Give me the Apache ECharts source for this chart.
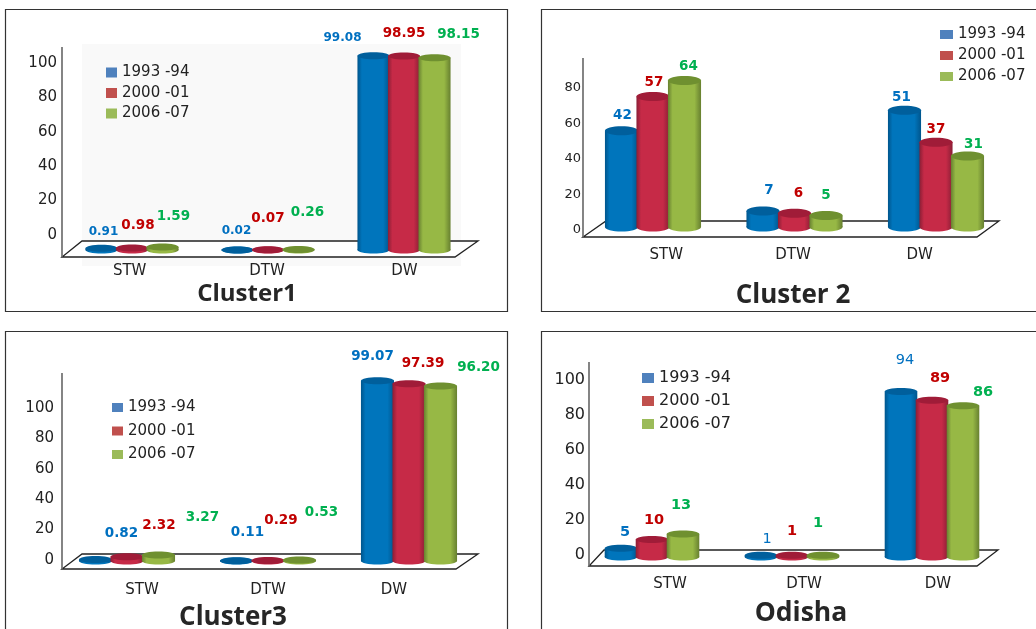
<!DOCTYPE html>
<html><head><meta charset="utf-8">
<style>html,body{margin:0;padding:0;background:#fff}#c{width:1036px;height:629px}</style>
<script src="https://cdn.jsdelivr.net/npm/echarts@6/dist/echarts.min.js"></script>
</head><body><div id="c"></div>
<script>
const categories = ['STW', 'DTW', 'DW'];
const periods = ['1993 -94', '2000 -01', '2006 -07'];
const panelTitles = ['Cluster1', 'Cluster 2', 'Cluster3', 'Odisha'];
const cluster1_1993 = [0.91, 0.02, 99.08];
const cluster1_2000 = [0.98, 0.07, 98.95];
const cluster1_2006 = [1.59, 0.26, 98.15];
const cluster2_1993 = [42, 7, 51];
const cluster2_2000 = [57, 6, 37];
const cluster2_2006 = [64, 5, 31];
const cluster3_1993 = [0.82, 0.11, 99.07];
const cluster3_2000 = [2.32, 0.29, 97.39];
const cluster3_2006 = [3.27, 0.53, 96.20];
const odisha_1993 = [5, 1, 94];
const odisha_2000 = [10, 1, 89];
const odisha_2006 = [13, 1, 86];
const panelValues = [
  [cluster1_1993, cluster1_2000, cluster1_2006],
  [cluster2_1993, cluster2_2000, cluster2_2006],
  [cluster3_1993, cluster3_2000, cluster3_2006],
  [odisha_1993, odisha_2000, odisha_2006]
];
const tickTop = [100, 80, 100, 100];
const plotMax = [100, 80, 100, 100];
const decimals = [2, 0, 2, 0];

// layout only
const layout = [
 {frame:[5,9,502,302], floor:[[82,241],[478,241],[455,257],[62,257]], axisX:62, axisTop:47,
  barLeft:64, barStep:136, bar:30.5, base:250, scale:1.96, ry:3.5,
  tick:{top:63,bottom:235,size:15,right:57}, cat:{left:61,width:412,y:272,size:15},
  title:{x:247,y:293,size:24},
  legend:{left:106,top:65,w:11,h:10,gap:20.5,size:15},
  labelSize:[12,13.5,13.5],
  off:[[[2,-16],[-1,-19],[-31,-18]],[[6,-23],[0,-31],[0,-23]],[[11,-30],[9,-36.5],[24,-23]]]},
 {frame:[541,9,520,302], floor:[[606,221],[999,221],[977,237],[583,237]], axisX:583, axisTop:58,
  barLeft:582.25, barStep:141.5, bar:31.5, base:227, scale:2.29, ry:4.5,
  tick:{top:88,bottom:230,size:13,right:581}, cat:{left:603,width:380,y:256,size:15},
  title:{x:793,y:295,size:26},
  legend:{left:940,top:27,w:13,h:9,gap:21,size:15},
  labelSize:[13.5,13.5,13.5],
  off:[[[1,-15],[6,-20],[-3,-13]],[[1,-13.5],[4,-20],[0,-13]],[[4,-14],[0,-20.5],[6,-12]]]},
 {frame:[5,331,502,320], floor:[[82,554],[478,554],[456,569],[62,569]], axisX:62, axisTop:373,
  barLeft:56.5, barStep:141, bar:31.5, base:561, scale:1.82, ry:3.5,
  tick:{top:408,bottom:560,size:15,right:54}, cat:{left:79,width:378,y:591,size:15},
  title:{x:233,y:617,size:26},
  legend:{left:112,top:400,w:11,h:9,gap:23.5,size:15},
  labelSize:[13.5,13.5,13.5],
  off:[[[26,-26.5],[11,-28],[-5,-23.7]],[[32,-30.8],[13,-39.5],[14,-20.7]],[[44,-38],[22,-48],[38,-18]]]},
 {frame:[541,331,520,320], floor:[[604,550],[998,550],[977,566],[589,566]], axisX:589, axisTop:362,
  barLeft:582, barStep:140, bar:31, base:557, scale:1.76, ry:3.5,
  tick:{top:380,bottom:555,size:16,right:585}, cat:{left:603,width:402,y:585,size:15},
  title:{x:801,y:612,size:26.5},
  legend:{left:642,top:370,w:12,h:10,gap:23,size:16},
  labelSize:[14.5,14.5,14.5], blueWeights:['bold','normal','normal'],
  off:[[[4,-16],[6,-16],[4,-31.6]],[[2,-19.4],[0,-24],[8,-22]],[[-2,-29],[-5,-32],[20,-13.6]]]}
];
const legendColors = ['#4F81BD', '#C0504D', '#9BBB59'];
const labelColors = ['#0070C0', '#C00000', '#00B050'];
const bodyColors = [
  {edge:'#00558C', mid:'#0075BC', top:'#005F9C'},
  {edge:'#8A1E35', mid:'#C62A47', top:'#A01C38'},
  {edge:'#678030', mid:'#97B845', top:'#6F9030'}
];
const FONT = '"DejaVu Sans", sans-serif';

function cylinder(p, s, params, api) {
  const L = layout[p], c = bodyColors[s];
  const cat = api.value(0), val = api.value(1);
  const pt = api.coord([cat, val]), b = api.coord([cat, 0]);
  const cx = pt[0] + (s - 1) * L.bar, top = pt[1], base = b[1];
  const rx = L.bar / 2 + 0.8, ry = L.ry;
  const grad = {type:'linear', x:0, y:0, x2:1, y2:0, colorStops:[
    {offset:0, color:c.edge},{offset:0.14, color:c.mid},{offset:0.8, color:c.mid},{offset:1, color:c.edge}]};
  const o = L.off[s][cat];
  const weight = (s === 0 && L.blueWeights) ? L.blueWeights[cat] : 'bold';
  return {type:'group', children:[
    {type:'ellipse', shape:{cx:cx, cy:base, rx:rx, ry:ry}, style:{fill:grad}},
    {type:'rect', shape:{x:cx-rx, y:top, width:rx*2, height:Math.max(base-top,0)}, style:{fill:grad}},
    {type:'ellipse', shape:{cx:cx, cy:top, rx:rx, ry:ry}, style:{fill:c.top}},
    {type:'text', z2:10, style:{x:cx+o[0], y:top+o[1], text:val.toFixed(decimals[p]), fill:labelColors[s],
      font:weight+' '+L.labelSize[s]+'px '+FONT, align:'center', verticalAlign:'middle'}}
  ]};
}

const grid=[], xAxis=[], yAxis=[], series=[], legend=[], title=[];
const graphic=[{type:'rect', z:-2, shape:{x:82,y:44,width:379,height:222}, style:{fill:'#F9F9F9'}}];

layout.forEach((L,p)=>{
  // tick / category label grid
  grid.push({left:L.cat.left, width:L.cat.width, top:L.tick.top, height:L.tick.bottom-L.tick.top});
  xAxis.push({gridIndex:2*p, type:'category', data:categories, axisLine:{show:false}, axisTick:{show:false},
    axisLabel:{margin:L.cat.y-L.tick.bottom-L.cat.size/2-1, fontFamily:FONT, fontSize:L.cat.size, color:'#222'}});
  yAxis.push({gridIndex:2*p, type:'value', min:0, max:tickTop[p], interval:20, offset:L.cat.left-L.tick.right,
    splitLine:{show:false}, axisLine:{show:false}, axisTick:{show:false},
    axisLabel:{margin:0, fontFamily:FONT, fontSize:L.tick.size, color:'#222'}});
  // plot grid
  const h = plotMax[p]*L.scale;
  grid.push({left:L.barLeft, width:L.barStep*3, top:L.base-h, height:h});
  xAxis.push({gridIndex:2*p+1, type:'category', data:categories, show:false});
  yAxis.push({gridIndex:2*p+1, type:'value', min:0, max:plotMax[p], show:false, splitLine:{show:false}});
  panelValues[p].forEach((vals,s)=>{
    series.push({type:'custom', name:periods[s], xAxisIndex:2*p+1, yAxisIndex:2*p+1, clip:false,
      itemStyle:{color:legendColors[s]}, silent:true,
      data:vals.map((v,i)=>[i,v]), encode:{x:0,y:1},
      renderItem:(params,api)=>cylinder(p,s,params,api)});
  });
  legend.push({orient:'vertical', left:L.legend.left, top:L.legend.top, padding:0, itemWidth:L.legend.w, itemHeight:L.legend.h,
    itemGap:L.legend.gap-L.legend.size, selectedMode:false, icon:'rect', data:periods,
    textStyle:{fontFamily:FONT, fontSize:L.legend.size, color:'#222', lineHeight:L.legend.size}});
  title.push({text:panelTitles[p], left:L.title.x, top:L.title.y-L.title.size*0.62+4, textAlign:'center', padding:0,
    textStyle:{fontFamily:'"Open Sans", sans-serif', fontWeight:'bold', fontSize:L.title.size, color:'#262626'}});
  const f=L.frame;
  graphic.push({type:'rect', z:-1, shape:{x:f[0]+.5,y:f[1]+.5,width:f[2],height:f[3]}, style:{fill:'none',stroke:'#333',lineWidth:1.2}});
  graphic.push({type:'polygon', z:0, shape:{points:L.floor}, style:{fill:'#fff',stroke:'#222',lineWidth:1.3}});
  graphic.push({type:'line', z:0, shape:{x1:L.axisX,y1:L.axisTop,x2:L.axisX,y2:L.floor[3][1]}, style:{stroke:'#666',lineWidth:1.6}});
});

const chart=echarts.init(document.getElementById('c'));
chart.setOption({animation:false, backgroundColor:'#fff', grid, xAxis, yAxis, series, legend, title, graphic});
</script></body></html>
